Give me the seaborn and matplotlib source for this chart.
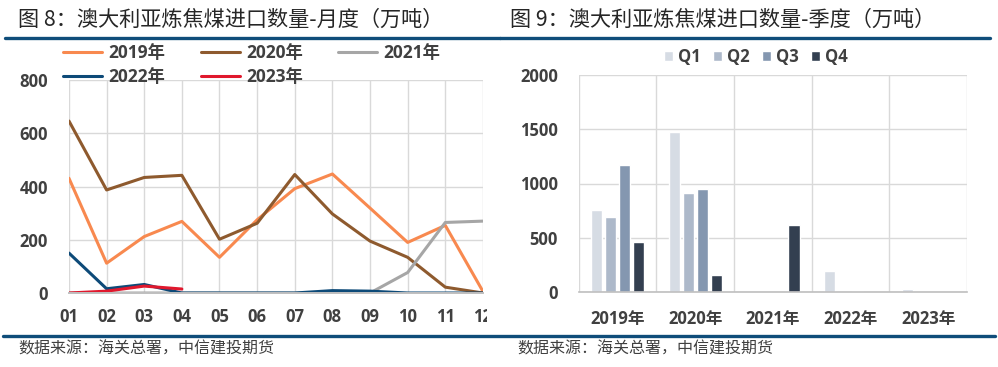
import numpy as np
import pandas as pd
import seaborn as sns
import matplotlib.pyplot as plt
from matplotlib.lines import Line2D
from matplotlib.transforms import Bbox, TransformedBbox

# monthly imports (10k t)
months = ['01', '02', '03', '04', '05', '06', '07', '08', '09', '10', '11', '12']
years = ['2019年', '2020年', '2021年', '2022年', '2023年']
v2019 = [431, 112, 212, 269, 134, 275, 392, 447, 319, 190, 254, 6]
v2020 = [646, 387, 434, 442, 202, 262, 445, 297, 195, 134, 22, 0]
v2021 = [0, 0, 0, 0, 0, 0, 0, 0, 0, 77, 265, 270]
v2022 = [150, 16, 32, 0, 0, 0, 0, 9, 7, 0, 0, 0]
v2023 = [0, 7, 26, 15]
line_colors = ['#F8894F', '#8E5A2E', '#A6A6A6', '#0D4A78', '#E0182D']

# quarterly imports (10k t)
quarters = ['Q1', 'Q2', 'Q3', 'Q4']
q1 = [759, 1475, 0, 194, 28]
q2 = [688, 917, 0, 0, 0]
q3 = [1170, 947, 0, 12, 0]
q4 = [460, 157, 617, 0, 0]
bar_colors = ['#D6DCE4', '#ADB9CA', '#8497B0', '#333F50']

rows = []
for y, vals in zip(years, [v2019, v2020, v2021, v2022, v2023]):
    for i, v in enumerate(vals):
        rows.append({'year': y, 'm': i, 'value': v})
df_m = pd.DataFrame(rows)

rows = []
for q, vals in zip(quarters, [q1, q2, q3, q4]):
    for y, v in zip(years, vals):
        rows.append({'year': y, 'quarter': q, 'value': v})
df_q = pd.DataFrame(rows)

sns.set_theme(style='white')
plt.rcParams['font.family'] = ['Open Sans', 'Noto Sans CJK SC', 'DejaVu Sans']
tick_col = '#404040'
grid_col = '#D9D9D9'
base_col = '#BFBFBF'

fig = plt.figure(figsize=(9.98, 3.67), dpi=100)

# ---- left: monthly lines
ax1 = fig.add_axes([0.0691, 0.2016, 0.4148, 0.5804])
sns.lineplot(data=df_m, x='m', y='value', hue='year', hue_order=years,
             palette=dict(zip(years, line_colors)), linewidth=2.2, ax=ax1)
ax1.set_xlim(0, 11)
ax1.set_ylim(0, 800)
ax1.set_xticks(range(12), months)
ax1.set_yticks(range(0, 801, 200))
ax1.grid(True, color=grid_col, lw=1.0)
ax1.set_axisbelow(True)
for s in ax1.spines.values():
    s.set_visible(False)
ax1.spines['bottom'].set_visible(True)
ax1.spines['bottom'].set_color(base_col)
ax1.spines['bottom'].set_linewidth(1.4)
ax1.set_xlabel('')
ax1.set_ylabel('')
ax1.tick_params(axis='both', length=0, labelsize=12, labelcolor=tick_col)
ax1.tick_params(axis='y', pad=15)
ax1.tick_params(axis='x', pad=11)
for lbl in ax1.get_xticklabels() + ax1.get_yticklabels():
    lbl.set_fontweight('bold')
# last month label is cut by the panel edge
last = ax1.xaxis.get_major_ticks()[-1].label1
last.set_clip_box(TransformedBbox(Bbox([[0, 0], [487 / 998, 1]]), fig.transFigure))
last.set_clip_on(True)

h, l = ax1.get_legend_handles_labels()
ax1.legend_.remove()
order = [0, 3, 1, 4, 2]
fig.legend([h[i] for i in order], [l[i] for i in order], ncol=3,
           loc='center left', bbox_to_anchor=(63 / 998, 1 - 65 / 367),
           borderpad=0, borderaxespad=0,
           frameon=False, handlelength=2.25, handletextpad=0.35,
           columnspacing=2.05, labelspacing=0.3,
           prop={'size': 12.5, 'weight': 'bold'}, labelcolor=tick_col)

# ---- right: quarterly bars
ax2 = fig.add_axes([0.580, 0.2044, 0.389, 0.5912])
sns.barplot(data=df_q, x='year', y='value', hue='quarter', hue_order=quarters,
            palette=dict(zip(quarters, bar_colors)), width=0.72, gap=0.2,
            saturation=1, errorbar=None, ax=ax2)
ax2.set_xlim(-0.5, 4.5)
ax2.set_ylim(0, 2000)
ax2.set_yticks(range(0, 2001, 500))
ax2.set_xticks(np.arange(-0.5, 5, 1), minor=True)
ax2.grid(True, which='minor', axis='x', color=grid_col, lw=1.0)
ax2.grid(True, which='major', axis='y', color=grid_col, lw=1.0)
ax2.grid(False, which='major', axis='x')
ax2.set_axisbelow(True)
for s in ax2.spines.values():
    s.set_visible(False)
ax2.spines['bottom'].set_visible(True)
ax2.spines['bottom'].set_color(base_col)
ax2.spines['bottom'].set_linewidth(1.2)
ax2.set_xlabel('')
ax2.set_ylabel('')
ax2.tick_params(axis='both', which='both', length=0, labelsize=12, labelcolor=tick_col)
ax2.tick_params(axis='y', pad=15)
ax2.tick_params(axis='x', pad=13)
for lbl in ax2.get_xticklabels() + ax2.get_yticklabels():
    lbl.set_fontweight('bold')
ax2.legend(loc='center left', bbox_to_anchor=(664 / 998, 1 - 57 / 367),
           bbox_transform=fig.transFigure, ncol=4, frameon=False,
           borderpad=0, borderaxespad=0,
           handlelength=0.55, handleheight=0.55, handletextpad=0.3,
           columnspacing=0.72, prop={'size': 12, 'weight': 'bold'},
           labelcolor=tick_col)

# ---- titles, rules, sources
cjk = ['Noto Sans CJK SC', 'DejaVu Sans']
fig.text(18 / 998, 1 - 20 / 367, '图 8：澳大利亚炼焦煤进口数量-月度（万吨）',
         fontsize=15.25, va='center', ha='left', color='#262626', family=cjk)
fig.text(510 / 998, 1 - 20 / 367, '图 9：澳大利亚炼焦煤进口数量-季度（万吨）',
         fontsize=15.25, va='center', ha='left', color='#262626', family=cjk)
rule = '#0F4D7A'
fig.add_artist(Line2D([5 / 998, 500 / 998], [1 - 38 / 367] * 2, color=rule, lw=2.4,
                      transform=fig.transFigure))
fig.add_artist(Line2D([500 / 998, 990 / 998], [1 - 38 / 367] * 2, color=rule, lw=2.4,
                      transform=fig.transFigure))
fig.add_artist(Line2D([3 / 998, 995 / 998], [1 - 336 / 367] * 2, color=rule, lw=2.4,
                      transform=fig.transFigure))
for x in [18, 517]:
    fig.text(x / 998, 1 - 349 / 367, '数据来源：海关总署，中信建投期货', fontsize=11.5,
             va='center', ha='left', color='#404040', style='italic', family=cjk)

fig.savefig('out.png', dpi=100)
